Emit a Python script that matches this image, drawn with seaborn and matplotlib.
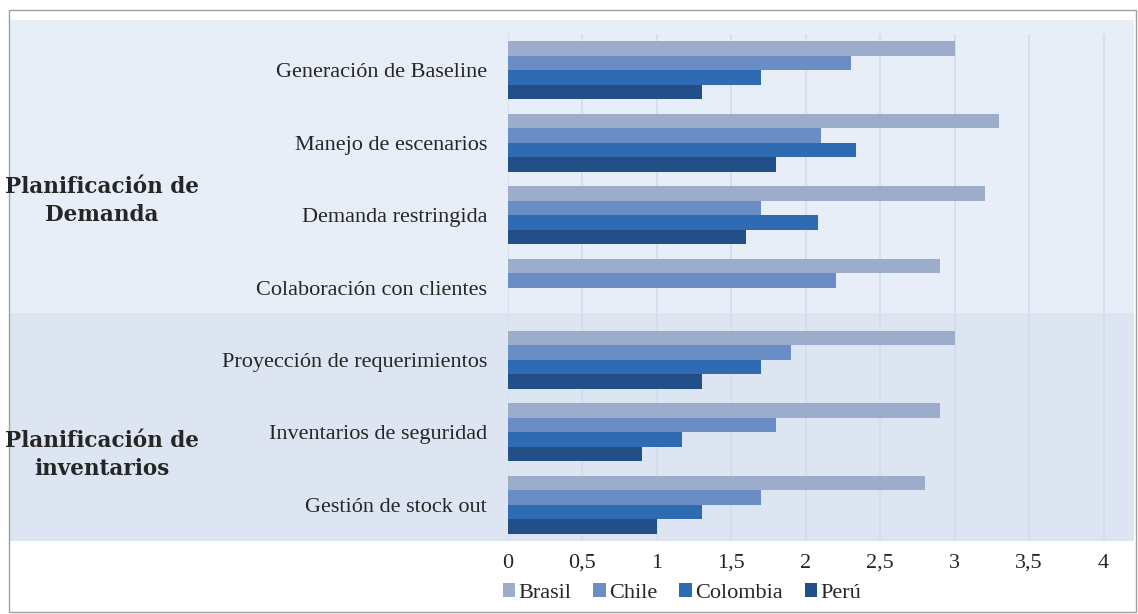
import matplotlib
matplotlib.use("Agg")
import matplotlib.pyplot as plt
import seaborn as sns
import pandas as pd
from matplotlib.patches import Rectangle
from matplotlib.ticker import FuncFormatter

categories = [
    "Generación de Baseline",
    "Manejo de escenarios",
    "Demanda restringida",
    "Colaboración con clientes",
    "Proyección de requerimientos",
    "Inventarios de seguridad",
    "Gestión de stock out",
]
countries = ["Brasil", "Chile", "Colombia", "Perú"]
brasil = [3.0, 3.3, 3.2, 2.9, 3.0, 2.9, 2.8]
chile = [2.3, 2.1, 1.7, 2.2, 1.9, 1.8, 1.7]
colombia = [1.7, 2.34, 2.08, 0.0, 1.7, 1.17, 1.3]
peru = [1.3, 1.8, 1.6, 0.0, 1.3, 0.9, 1.0]
groups = ["Planificación de\nDemanda", "Planificación de\ninventarios"]
xticks = [0, 0.5, 1, 1.5, 2, 2.5, 3, 3.5, 4]

colors = ["#9CACCB", "#6A8DC6", "#2E6BB3", "#234F88"]

rows = []
for name, vals in zip(countries, [brasil, chile, colombia, peru]):
    for c, v in zip(categories, vals):
        rows.append({"cat": c, "pais": name, "valor": v})
df = pd.DataFrame(rows)

sns.set_theme(style="white")
plt.rcParams["font.family"] = ["Liberation Serif", "DejaVu Serif"]

W, H = 1138, 614
fig = plt.figure(figsize=(W / 100, H / 100), dpi=100)
fig.patch.set_facecolor("white")

def fx(px):
    return px / W

def fy(py):
    return 1 - py / H

# background bands
fig.patches.append(Rectangle((fx(10), fy(313)), fx(1134) - fx(10), fy(20) - fy(313),
                             transform=fig.transFigure, facecolor="#E8EEF7", edgecolor="none", zorder=-2))
fig.patches.append(Rectangle((fx(10), fy(541)), fx(1134) - fx(10), fy(313) - fy(541),
                             transform=fig.transFigure, facecolor="#DCE5F1", edgecolor="none", zorder=-2))
# outer frame
fig.patches.append(Rectangle((fx(9), fy(612)), fx(1136) - fx(9), fy(10) - fy(612),
                             transform=fig.transFigure, facecolor="none", edgecolor="#A0A0A0", lw=1.0, zorder=-1))

ax = fig.add_axes([fx(508), fy(541), fx(1126) - fx(508), fy(34) - fy(541)])
ax.set_zorder(1)
ax.patch.set_alpha(0)

sns.barplot(data=df, y="cat", x="valor", hue="pais", order=categories, hue_order=countries,
            palette=colors, orient="h", width=0.8, saturation=1, ax=ax, legend=False,
            edgecolor="none")

ax.set_xlim(0, 4.15)
ax.set_xticks(xticks)
ax.xaxis.set_major_formatter(FuncFormatter(lambda v, p: (f"{v:g}").replace(".", ",")))
ax.grid(axis="x", color="#D2DDEC", lw=1.2)
ax.grid(axis="y", visible=False)
ax.set_axisbelow(True)
for s in ax.spines.values():
    s.set_visible(False)
ax.set_xlabel("")
ax.set_ylabel("")
ax.tick_params(axis="y", length=0, pad=15, labelsize=16, labelcolor="#262626")
ax.tick_params(axis="x", length=0, pad=9, labelsize=16, labelcolor="#262626")

# group labels
fig.text(fx(102), fy(201), groups[0], ha="center", va="center", fontsize=15.5,
         fontweight="bold", color="#262626", linespacing=1.3, family="DejaVu Serif")
fig.text(fx(102), fy(455), groups[1], ha="center", va="center", fontsize=15.5,
         fontweight="bold", color="#262626", linespacing=1.3, family="DejaVu Serif")

handles = [Rectangle((0, 0), 1, 1, facecolor=c, edgecolor="none") for c in colors]
fig.legend(handles, countries, loc="center", bbox_to_anchor=(fx(682), fy(593)), ncol=4,
           frameon=False, handlelength=0.55, handleheight=0.55, handletextpad=0.15,
           columnspacing=1.0, fontsize=16, labelcolor="#262626", borderpad=0.2)

fig.savefig("out.png", dpi=100)
